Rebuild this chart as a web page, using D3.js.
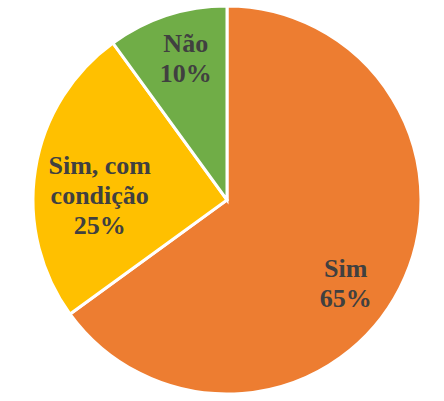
<!DOCTYPE html>
<html>
<head>
<meta charset="utf-8">
<script src="https://cdn.jsdelivr.net/npm/d3@7"></script>
<style>
  body { margin: 0; background: #fff; }
</style>
</head>
<body>
<script>
// data
const categories = ['Sim', 'Sim, com condição', 'Não'];
const values = [65, 25, 10];
const labelLines = [['Sim', '65%'], ['Sim, com', 'condição', '25%'], ['Não', '10%']];
const colors = ['#ED7D31', '#FFC000', '#70AD47'];

const width = 444, height = 401;
const cx = 227, cy = 200, radius = 194;
// small nudges so labels sit where excel put them
const nudges = [[-6, 19], [11, 17], [2, -9]];

let svg = d3.select('body')
  .append('svg')
  .attr('width', width)
  .attr('height', height);

let g = svg.append('g')
  .attr('transform', 'translate(' + cx + ',' + cy + ')');

let pie = d3.pie()
  .sort(null)
  .value(function (d) { return d; });

let arcs = pie(values);

let arc = d3.arc()
  .innerRadius(0)
  .outerRadius(radius);

let labelArc = d3.arc()
  .innerRadius(140)
  .outerRadius(140);

g.selectAll('path.slice')
  .data(arcs)
  .enter()
  .append('path')
  .attr('class', 'slice')
  .attr('d', arc)
  .attr('fill', function (d, i) { return colors[i]; })
  .attr('stroke', '#fff')
  .attr('stroke-width', 3)
  .attr('stroke-linejoin', 'miter');

let fontSize = 26, lineH = 30;

g.selectAll('text.lbl')
  .data(arcs)
  .enter()
  .append('text')
  .attr('class', 'lbl')
  .attr('text-anchor', 'middle')
  .attr('font-family', '"Liberation Serif", "Times New Roman", serif')
  .attr('font-weight', 'bold')
  .attr('font-size', fontSize)
  .attr('fill', '#404040')
  .each(function (d, i) {
    let c = labelArc.centroid(d);
    let x = c[0] + nudges[i][0];
    let y = c[1] + nudges[i][1];
    let lines = labelLines[i];
    let top = y - (lines.length - 1) * lineH / 2;
    let t = d3.select(this);
    lines.forEach(function (s, k) {
      t.append('tspan')
        .attr('x', x)
        .attr('y', top + k * lineH)
        .attr('dy', '0.35em')
        .text(s);
    });
  });
</script>
</body>
</html>
